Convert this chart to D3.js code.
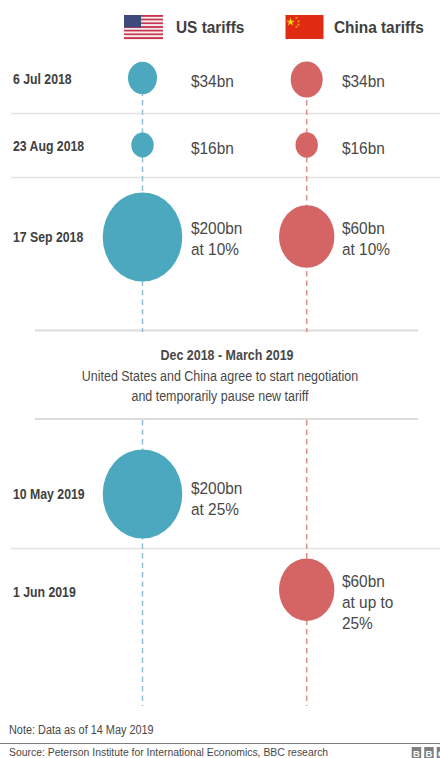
<!DOCTYPE html>
<meta charset="utf-8">
<style>
body { margin: 0; background: #fff; }
svg { display: block; font-family: "Liberation Sans", sans-serif; }
.rule { stroke: #e4e4e4; stroke-width: 1.5px; }
.rule.thick { stroke: #dcdcdc; stroke-width: 2px; }
.stem { stroke-width: 1.5px; stroke-dasharray: 5.5 4; }
.date { font-size: 13.8px; font-weight: bold; fill: #404040; }
.amount { font-size: 17.3px; fill: #484848; }
.head { font-size: 17.3px; font-weight: bold; fill: #404040; }
.pause { font-size: 14px; fill: #484848; text-anchor: middle; }
.note { font-size: 12.25px; fill: #484848; }
.source { font-size: 11.7px; fill: #484848; }
</style>
<svg width="440" height="758"></svg>
<script src="https://d3js.org/d3.v7.min.js"></script>
<script>

var dates = ["6 Jul 2018", "23 Aug 2018", "17 Sep 2018", "10 May 2019", "1 Jun 2019"];
var usValues = [34, 16, 200, 200, null];
var chinaValues = [34, 16, 60, null, 60];
var usLabels = [["$34bn"], ["$16bn"], ["$200bn", "at 10%"], ["$200bn", "at 25%"], null];
var chinaLabels = [["$34bn"], ["$16bn"], ["$60bn", "at 10%"], null, ["$60bn", "at up to", "25%"]];
var rowKeys = [0, 1, 2, 3, 4];

var svg = d3.select("svg");

// rows are not evenly spaced, the middle panel breaks them up
var yUs = d3.scaleOrdinal().domain(rowKeys).range([78, 145, 237, 494, 590]);
var yChina = d3.scaleOrdinal().domain(rowKeys).range([79.5, 145, 236.5, 494, 589.7]);
var yDate = d3.scaleOrdinal().domain(rowKeys).range([84, 150.5, 241.5, 498.5, 597]);
var yLabel = d3.scaleOrdinal().domain(rowKeys).range([87, 154, 244.5, 504.5, 608]);
var x = d3.scalePoint().domain(["US", "China"]).range([142.5, 306.7]);

// circles in the original are not strictly to scale, sizes read off picture
var rUs = d3.scaleLinear().domain([16, 34, 200]).range([11.2, 14.5, 39.8]);
var rChina = d3.scaleLinear().domain([16, 34, 60]).range([11.2, 16, 27.7]);
var squash = {US: 1.12, China: 1.13};

var series = [
  {name: "US", values: usValues, labels: usLabels, color: "#4ba8bf", stem: "#8fbfd0", r: rUs, y: yUs, lx: 191},
  {name: "China", values: chinaValues, labels: chinaLabels, color: "#d56565", stem: "#dc8f8f", r: rChina, y: yChina, lx: 342}
];

// the whole original is stretched upright, so text gets squeezed sideways too
function label(cls, lx, ly, t) {
  return svg.append("text").attr("class", cls)
    .attr("transform", "translate(" + lx + "," + ly + ") scale(0.89,1)")
    .text(t);
}

// separators
[113.5, 177.5, 548.5].forEach(function(d) {
  svg.append("line").attr("class", "rule").attr("x1", 11).attr("x2", 440).attr("y1", d).attr("y2", d);
});
[330.5, 419].forEach(function(d) {
  svg.append("line").attr("class", "rule thick").attr("x1", 35).attr("x2", 418).attr("y1", d).attr("y2", d);
});

// dashed stems, broken around the middle panel
series.forEach(function(s) {
  [[62, 332], [420, 706]].forEach(function(d) {
    svg.append("line").attr("class", "stem").attr("stroke", s.stem)
      .attr("x1", x(s.name)).attr("x2", x(s.name)).attr("y1", d[0]).attr("y2", d[1]);
  });
});

// rows
dates.forEach(function(d, i) {
  label("date", 13, yDate(i), d);
});

series.forEach(function(s) {
  var rows = s.values.map(function(v, i) { return {v: v, i: i, label: s.labels[i]}; })
    .filter(function(d) { return d.v !== null; });

  svg.selectAll(".c" + s.name).data(rows).enter().append("ellipse")
    .attr("class", "c" + s.name)
    .attr("cx", x(s.name))
    .attr("cy", function(d) { return s.y(d.i); })
    .attr("rx", function(d) { return s.r(d.v); })
    .attr("ry", function(d) { return s.r(d.v) * squash[s.name]; })
    .attr("fill", s.color);

  rows.forEach(function(d) {
    var n = d.label.length;
    d.label.forEach(function(t, k) {
      label("amount", s.lx, yLabel(d.i) + (k - (n - 1) / 2) * 20.8, t);
    });
  });
});

// header
label("head", 176, 33, "US tariffs");
label("head", 334, 33, "China tariffs");

// flags
var us = svg.append("g").attr("transform", "translate(124,15)");
d3.range(13).forEach(function(i) {
  us.append("rect").attr("y", i * 24 / 13).attr("width", 39).attr("height", 24 / 13 + 0.1)
    .attr("fill", i % 2 ? "#f4e9ea" : "#c8324f");
});
us.append("rect").attr("width", 17).attr("height", 12.5).attr("fill", "#3f4a7c");

var cn = svg.append("g").attr("transform", "translate(285.5,15)");
cn.append("rect").attr("width", 38).attr("height", 24).attr("fill", "#e02a12");
var star = d3.symbol().type(d3.symbolStar);
cn.append("path").attr("d", star.size(22)()).attr("transform", "translate(5,7)").attr("fill", "#fcd116");
[[11, 3], [13, 6.3], [13, 9.7], [11, 12]].forEach(function(p) {
  cn.append("path").attr("d", star.size(3)()).attr("transform", "translate(" + p[0] + "," + p[1] + ")").attr("fill", "#f2b014");
});

// middle panel
label("pause", 227, 360, "Dec 2018 - March 2019").style("font-weight", "bold");
label("pause", 220, 381, "United States and China agree to start negotiation");
label("pause", 220, 400.5, "and temporarily pause new tariff");

// footer
label("note", 9, 734, "Note: Data as of 14 May 2019");
svg.append("line").attr("x1", 0).attr("x2", 440).attr("y1", 743.5).attr("y2", 743.5).attr("stroke", "#808080");
label("source", 9, 755.5, "Source: Peterson Institute for International Economics, BBC research");

// BBC blocks, the last one runs off the edge like the original
["B", "B", "C"].forEach(function(t, i) {
  var bx = 411.7 + i * 12.5;
  svg.append("rect").attr("x", bx).attr("y", 747).attr("width", 9.5).attr("height", 11).attr("fill", "#808080");
  svg.append("text").attr("x", bx + 4.75).attr("y", 756.5).attr("text-anchor", "middle")
    .attr("fill", "#fff").style("font-size", "9.5px").style("font-weight", "bold").text(t);
});
</script>
